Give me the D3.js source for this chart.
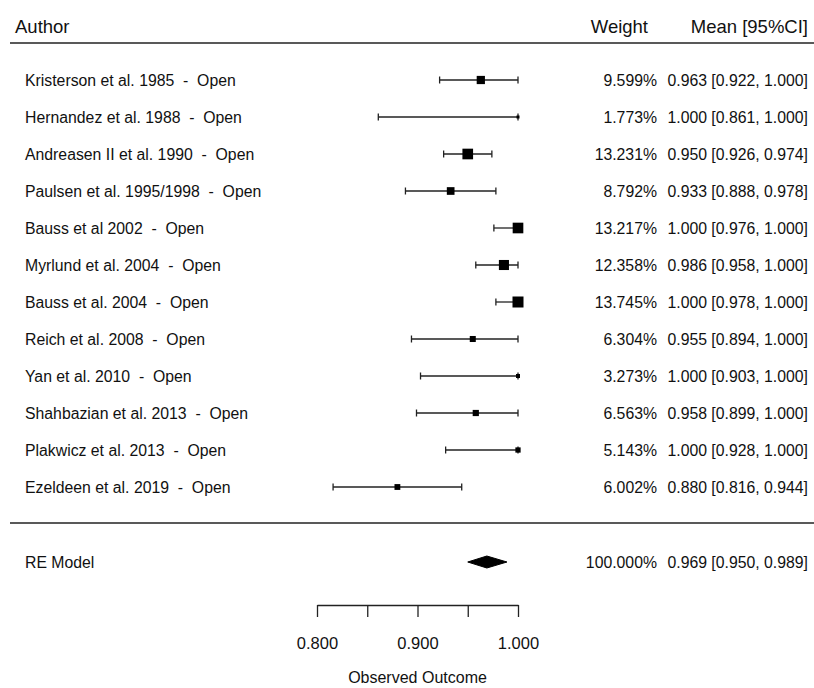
<!DOCTYPE html>
<html>
<head>
<meta charset="utf-8">
<script src="https://cdn.jsdelivr.net/npm/d3@7"></script>
<style>
  body { margin: 0; background: #fff; }
  svg { display: block; font-family: "Liberation Sans", Arial, sans-serif; }
</style>
</head>
<body>
<svg id="chart" width="814" height="688"></svg>
<script>
// study data
var authors = ['Kristerson et al. 1985', 'Hernandez et al. 1988', 'Andreasen II et al. 1990',
               'Paulsen et al. 1995/1998', 'Bauss et al 2002', 'Myrlund et al. 2004',
               'Bauss et al. 2004', 'Reich et al. 2008', 'Yan et al. 2010',
               'Shahbazian et al. 2013', 'Plakwicz et al. 2013', 'Ezeldeen et al. 2019'];
var groups  = ['Open', 'Open', 'Open', 'Open', 'Open', 'Open', 'Open', 'Open', 'Open', 'Open', 'Open', 'Open'];
var weights = [9.599, 1.773, 13.231, 8.792, 13.217, 12.358, 13.745, 6.304, 3.273, 6.563, 5.143, 6.002];
var means   = [0.963, 1.000, 0.950, 0.933, 1.000, 0.986, 1.000, 0.955, 1.000, 0.958, 1.000, 0.880];
var lower   = [0.922, 0.861, 0.926, 0.888, 0.976, 0.958, 0.978, 0.894, 0.903, 0.899, 0.928, 0.816];
var upper   = [1.000, 1.000, 0.974, 0.978, 1.000, 1.000, 1.000, 1.000, 1.000, 1.000, 1.000, 0.944];

var summaryLabel = 'RE Model';
var summary = [100.000, 0.969, 0.950, 0.989];   // weight, mean, lower, upper

var tickValues = [0.80, 0.85, 0.90, 0.95, 1.00];
var tickLabels = [0.80, 0.90, 1.00];

var svg = d3.select('#chart');
var ink = '#111';
var fs = 15.8;

var x = d3.scaleLinear().domain([0.8, 1.0]).range([317, 518]);
var y = d3.scaleLinear().domain([0, authors.length - 1]).range([80, 487]);
var size = d3.scaleLinear().domain([d3.min(weights), d3.max(weights)]).range([3, 11]);
var fmt = d3.format('.3f');

// header
svg.append('text').attr('x', 15).attr('y', 27).attr('dy', '.35em')
    .attr('font-size', 18.5).attr('fill', ink).text('Author');
svg.append('text').attr('x', 648).attr('y', 27).attr('dy', '.35em').attr('text-anchor', 'end')
    .attr('font-size', 18.5).attr('fill', ink).text('Weight');
svg.append('text').attr('x', 808).attr('y', 27).attr('dy', '.35em').attr('text-anchor', 'end')
    .attr('font-size', 18.5).attr('fill', ink).text('Mean [95%CI]');

[43, 523].forEach(function(ly)
{
    svg.append('line').attr('x1', 10).attr('x2', 814).attr('y1', ly).attr('y2', ly)
        .attr('stroke', '#222').attr('stroke-width', 1.6);
});

// study rows
var rows = svg.append('g').selectAll('g').data(authors).enter().append('g')
    .attr('transform', function(d, i) { return 'translate(0,' + y(i) + ')'; });

rows.append('text').attr('x', 25).attr('dy', '.35em').attr('font-size', fs).attr('fill', ink)
    .attr('xml:space', 'preserve')
    .text(function(d, i) { return d + '  -  ' + groups[i]; });

rows.append('line')
    .attr('x1', function(d, i) { return x(lower[i]); })
    .attr('x2', function(d, i) { return x(upper[i]); })
    .attr('stroke', '#222').attr('stroke-width', 1.3);

rows.append('line')
    .attr('x1', function(d, i) { return x(lower[i]); })
    .attr('x2', function(d, i) { return x(lower[i]); })
    .attr('y1', -3.5).attr('y2', 3.5)
    .attr('stroke', '#222').attr('stroke-width', 1.3);

rows.append('line')
    .attr('x1', function(d, i) { return x(upper[i]); })
    .attr('x2', function(d, i) { return x(upper[i]); })
    .attr('y1', -3.5).attr('y2', 3.5)
    .attr('stroke', '#222').attr('stroke-width', 1.3);

rows.append('rect')
    .attr('x', function(d, i) { return x(means[i]) - size(weights[i]) / 2; })
    .attr('y', function(d, i) { return -size(weights[i]) / 2; })
    .attr('width', function(d, i) { return size(weights[i]); })
    .attr('height', function(d, i) { return size(weights[i]); })
    .attr('fill', '#000');

rows.append('text').attr('x', 657).attr('dy', '.35em').attr('text-anchor', 'end')
    .attr('font-size', fs).attr('fill', ink)
    .text(function(d, i) { return fmt(weights[i]) + '%'; });

rows.append('text').attr('x', 808).attr('dy', '.35em').attr('text-anchor', 'end')
    .attr('font-size', fs).attr('fill', ink)
    .text(function(d, i) { return fmt(means[i]) + ' [' + fmt(lower[i]) + ', ' + fmt(upper[i]) + ']'; });

// summary
var sy = 562;
svg.append('text').attr('x', 25).attr('y', sy).attr('dy', '.35em')
    .attr('font-size', fs).attr('fill', ink).text(summaryLabel);
svg.append('polygon')
    .attr('points', [[x(summary[2]), sy], [x(summary[1]), sy - 6],
                     [x(summary[3]), sy], [x(summary[1]), sy + 6]].join(' '))
    .attr('fill', '#000').attr('stroke', '#000').attr('stroke-width', 1);
svg.append('text').attr('x', 657).attr('y', sy).attr('dy', '.35em').attr('text-anchor', 'end')
    .attr('font-size', fs).attr('fill', ink).text(fmt(summary[0]) + '%');
svg.append('text').attr('x', 808).attr('y', sy).attr('dy', '.35em').attr('text-anchor', 'end')
    .attr('font-size', fs).attr('fill', ink)
    .text(fmt(summary[1]) + ' [' + fmt(summary[2]) + ', ' + fmt(summary[3]) + ']');

// x axis
var axis = svg.append('g').attr('transform', 'translate(0,605)')
    .call(d3.axisBottom(x).tickValues(tickValues).tickSizeInner(12).tickSizeOuter(0)
        .tickFormat(function(d) { return tickLabels.indexOf(d) >= 0 ? fmt(d) : ''; }));
axis.select('.domain').attr('stroke', '#222').attr('stroke-width', 1.3);
axis.selectAll('.tick line').attr('stroke', '#222').attr('stroke-width', 1.3);
axis.selectAll('.tick text').attr('y', 38).attr('dy', '.35em')
    .attr('font-size', 16.5).attr('fill', ink)
    .attr('font-family', '"Liberation Sans", Arial, sans-serif');

svg.append('text').attr('x', x(0.9)).attr('y', 677).attr('dy', '.35em').attr('text-anchor', 'middle')
    .attr('font-size', 16).attr('fill', ink).text('Observed Outcome');
</script>
</body>
</html>
